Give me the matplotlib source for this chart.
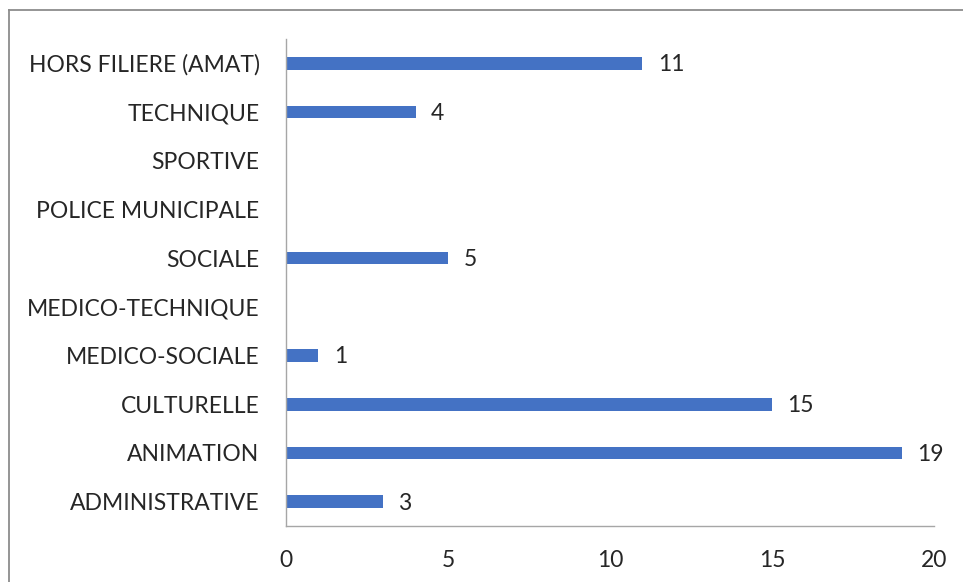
import matplotlib
matplotlib.use("Agg")
import matplotlib.pyplot as plt
from matplotlib.lines import Line2D

BAR_COL = "#4472C4"
AXIS_COL = "#A6A6A6"
TEXT_COL = "#262626"

categories = [
    "ADMINISTRATIVE",
    "ANIMATION",
    "CULTURELLE",
    "MEDICO-SOCIALE",
    "MEDICO-TECHNIQUE",
    "SOCIALE",
    "POLICE MUNICIPALE",
    "SPORTIVE",
    "TECHNIQUE",
    "HORS FILIERE (AMAT)",
]
counts = [3, 19, 15, 1, 0, 5, 0, 0, 4, 11]
x_ticks = [0, 5, 10, 15, 20]

plt.rcParams["font.family"] = ["Lato", "DejaVu Sans"]

fig = plt.figure(figsize=(9.63, 5.82), dpi=100)
ax = fig.add_axes([0.297, 0.0962, 0.673, 0.837])

bars = ax.barh(range(len(categories)), counts, height=0.26, color=BAR_COL)
for bar, val in zip(bars, counts):
    if val == 0:
        continue
    ax.annotate(str(val), (bar.get_width(), bar.get_y() + bar.get_height() / 2),
                xytext=(11, -1), textcoords="offset points",
                ha="left", va="center", fontsize=16.5, color=TEXT_COL)

ax.set_ylim(-0.5, len(categories) - 0.5)
ax.set_xlim(0, 20)
ax.set_xticks(x_ticks)
ax.set_yticks(range(len(categories)))
ax.set_yticklabels(categories)
ax.tick_params(axis="both", length=0, labelsize=16.5, colors=TEXT_COL)
ax.tick_params(axis="y", pad=19)
ax.tick_params(axis="x", pad=17)

for side in ("top", "right"):
    ax.spines[side].set_visible(False)
for side in ("left", "bottom"):
    ax.spines[side].set_color(AXIS_COL)
    ax.spines[side].set_linewidth(1.0)

# outer chart frame (top and left edges)
fig.add_artist(Line2D([9 / 963, 1], [1 - 10 / 582] * 2, color="#8C8C8C", lw=1.3,
                      transform=fig.transFigure))
fig.add_artist(Line2D([9 / 963] * 2, [0, 1 - 10 / 582], color="#8C8C8C", lw=1.3,
                      transform=fig.transFigure))

fig.savefig("out.png", dpi=100, facecolor="white")
